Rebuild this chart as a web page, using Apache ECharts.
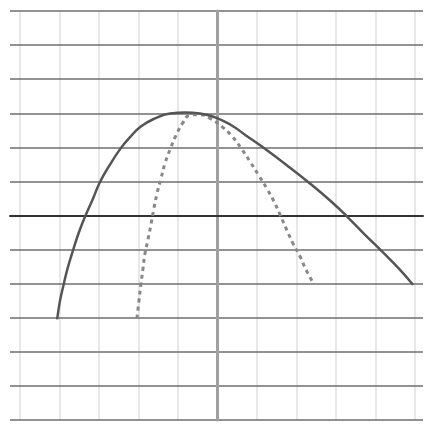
<!DOCTYPE html>
<html>
<head>
<meta charset="utf-8">
<script src="https://cdn.jsdelivr.net/npm/echarts@6/dist/echarts.min.js"></script>
<style>
  html, body { margin: 0; padding: 0; background: #fff; }
  #chart { width: 425px; height: 433px; }
</style>
</head>
<body>
<div id="chart"></div>
<script>
// solid curve
const solidX = [-4.06, -3.99, -3.89, -3.79, -3.66, -3.51, -3.33, -3.15, -2.98, -2.75, -2.47, -2.22, -1.94, -1.58, -1.20, -0.82, -0.44, -0.06, 0.32, 0.72, 1.15, 1.76, 2.34, 2.85, 3.28, 3.73, 4.17, 4.57, 4.95];
const solidY = [-3.05, -2.52, -2.0, -1.53, -1.03, -0.5, 0.03, 0.5, 0.97, 1.44, 1.94, 2.29, 2.61, 2.85, 2.99, 3.02, 2.99, 2.88, 2.67, 2.35, 2.0, 1.47, 0.94, 0.44, -0.03, -0.56, -1.06, -1.53, -2.03];

// dashed curve
const dashX = [-2.04, -1.99, -1.94, -1.89, -1.84, -1.76, -1.68, -1.61, -1.53, -1.43, -1.33, -1.20, -1.05, -0.87, -0.70, -0.44, -0.19, 0.11, 0.37, 0.62, 0.82, 1.03, 1.25, 1.43, 1.58, 1.76, 1.91, 2.09, 2.24, 2.42];
const dashY = [-3.02, -2.52, -2.03, -1.59, -1.14, -0.7, -0.24, 0.21, 0.65, 1.09, 1.53, 1.94, 2.35, 2.73, 2.94, 2.96, 2.85, 2.61, 2.32, 1.94, 1.59, 1.2, 0.79, 0.41, 0.03, -0.44, -0.82, -1.2, -1.59, -1.97];

const xRange = [-5, 5];
const yRange = [-6, 6];

const pairs = (xs, ys) => xs.map((x, i) => [x, ys[i]]);

const chart = echarts.init(document.getElementById("chart"));
chart.setOption({
  backgroundColor: "#fff",
  animation: false,
  grid: [
    { left: 10, right: 2, top: 11, bottom: 13 },
    { left: 20, right: 10, top: 11, bottom: 13 }
  ],
  xAxis: [
    {
      gridIndex: 0, type: "value", min: xRange[0], max: xRange[1],
      axisLine: { onZero: true, lineStyle: { color: "#333", width: 2 } },
      axisTick: { show: false }, axisLabel: { show: false }, splitLine: { show: false },
      z: 3
    },
    {
      gridIndex: 1, type: "value", min: xRange[0], max: xRange[1], interval: 1,
      axisLine: { show: false }, axisTick: { show: false }, axisLabel: { show: false },
      splitLine: { show: true, lineStyle: { color: "#e8e8e8", width: 2 } },
      z: 0
    }
  ],
  yAxis: [
    {
      gridIndex: 0, type: "value", min: yRange[0], max: yRange[1], interval: 1,
      axisLine: { show: false }, axisTick: { show: false }, axisLabel: { show: false },
      splitLine: { show: true, lineStyle: { color: "#6e6e6e", width: 1.5 } },
      z: 1
    },
    {
      gridIndex: 1, type: "value", min: yRange[0], max: yRange[1],
      axisLine: { show: true, onZero: true, lineStyle: { color: "#a0a0a0", width: 3 } },
      axisTick: { show: false }, axisLabel: { show: false }, splitLine: { show: false },
      z: 2
    }
  ],
  series: [
    {
      type: "line", xAxisIndex: 1, yAxisIndex: 1,
      data: pairs(dashX, dashY),
      smooth: 0.5, showSymbol: false, z: 4,
      lineStyle: { color: "#888", width: 3, type: [4, 4] }
    },
    {
      type: "line", xAxisIndex: 1, yAxisIndex: 1,
      data: pairs(solidX, solidY),
      smooth: 0.5, showSymbol: false, z: 5,
      lineStyle: { color: "#555", width: 2.5 }
    }
  ]
});
</script>
</body>
</html>
